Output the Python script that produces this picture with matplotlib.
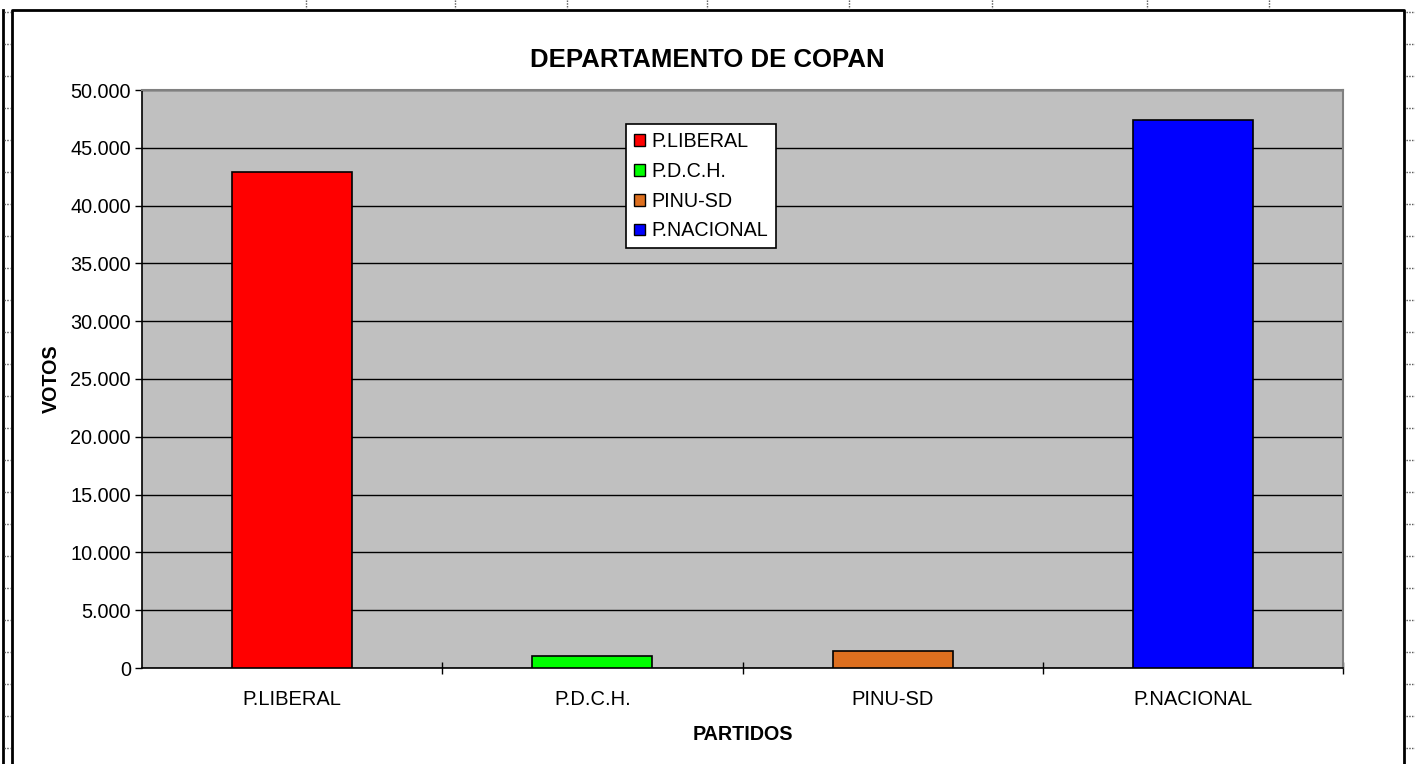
import matplotlib.pyplot as plt
from matplotlib.lines import Line2D
from matplotlib.patches import Patch
from matplotlib.ticker import FuncFormatter, FixedLocator

plt.rcParams["font.family"] = ["Liberation Sans", "DejaVu Sans"]

partidos = ["P.LIBERAL", "P.D.C.H.", "PINU-SD", "P.NACIONAL"]
votos = [42900, 1040, 1470, 47400]
colores = ["#ff0000", "#00ff00", "#dd6f1f", "#0000ff"]

W, H = 1415, 764
fig = plt.figure(figsize=(W / 100, H / 100), dpi=100)


def px(x, y):
    return x / W, 1 - y / H


# spreadsheet background: chart frame and cell marks
fig.add_artist(Line2D(*zip(px(12, 764), px(12, 10), px(1404, 10), px(1404, 764)),
                      color="black", lw=2))
fig.add_artist(Line2D(*zip(px(3, 10), px(3, 764)), color="black", lw=2))
for y in range(12, H, 32):
    fig.add_artist(Line2D(*zip(px(4, y), px(10, y)), color="#555555", lw=1, ls=(0, (1, 1))))
    fig.add_artist(Line2D(*zip(px(1406, y), px(1415, y)), color="#555555", lw=1, ls=(0, (1, 1))))
for x in [306, 455, 567, 707, 849, 992, 1147, 1269]:
    fig.add_artist(Line2D(*zip(px(x, 0), px(x, 9)), color="#555555", lw=1, ls=(0, (1, 1))))

ax = fig.add_axes([142 / W, 1 - 668 / H, 1201 / W, 578 / H])
ax.set_facecolor("#c0c0c0")
pos = list(range(len(partidos)))
ax.bar(pos, votos, width=0.4, color=colores, edgecolor="black", linewidth=1.2, zorder=3)

ax.set_xlim(-0.5, len(partidos) - 0.5)
ax.set_ylim(0, 50000)
ax.set_yticks(range(0, 50001, 5000))
ax.yaxis.set_major_formatter(FuncFormatter(lambda v, _: f"{v:,.0f}".replace(",", ".")))
ax.grid(axis="y", color="black", lw=1, zorder=1)

ax.set_xticks(pos)
ax.set_xticklabels(partidos, fontsize=14.5)
ax.tick_params(axis="x", length=0, pad=16)
ax.xaxis.set_minor_locator(FixedLocator([0.5, 1.5, 2.5, 3.5]))
ax.tick_params(axis="x", which="minor", direction="inout", length=9, width=1)
ax.tick_params(axis="y", direction="out", length=5, width=1, labelsize=14.3, pad=3)

for side in ["left", "bottom"]:
    ax.spines[side].set_color("black")
    ax.spines[side].set_linewidth(1.2)
for side in ["top", "right"]:
    ax.spines[side].set_color("#808080")
    ax.spines[side].set_linewidth(1.5)

ax.set_xlabel("PARTIDOS", fontsize=14.2, fontweight="bold", labelpad=11)
ax.set_ylabel("VOTOS", fontsize=14.2, fontweight="bold", labelpad=7)
fig.text(707 / W, 1 - 60 / H, "DEPARTAMENTO DE COPAN", fontsize=18.5, fontweight="bold",
         ha="center", va="center")

handles = [Patch(facecolor=c, edgecolor="black", lw=1) for c in colores]
leg = ax.legend(handles, partidos, loc="upper left", bbox_to_anchor=((626 - 142) / 1201, 1 - (124 - 90) / 578),
                fontsize=14.2, frameon=True, fancybox=False, edgecolor="black", framealpha=1,
                handlelength=0.55, handleheight=0.55, handletextpad=0.35, labelspacing=0.55,
                borderpad=0.4, borderaxespad=0)
leg.get_frame().set_linewidth(1.2)

fig.savefig("out.png", dpi=100)
